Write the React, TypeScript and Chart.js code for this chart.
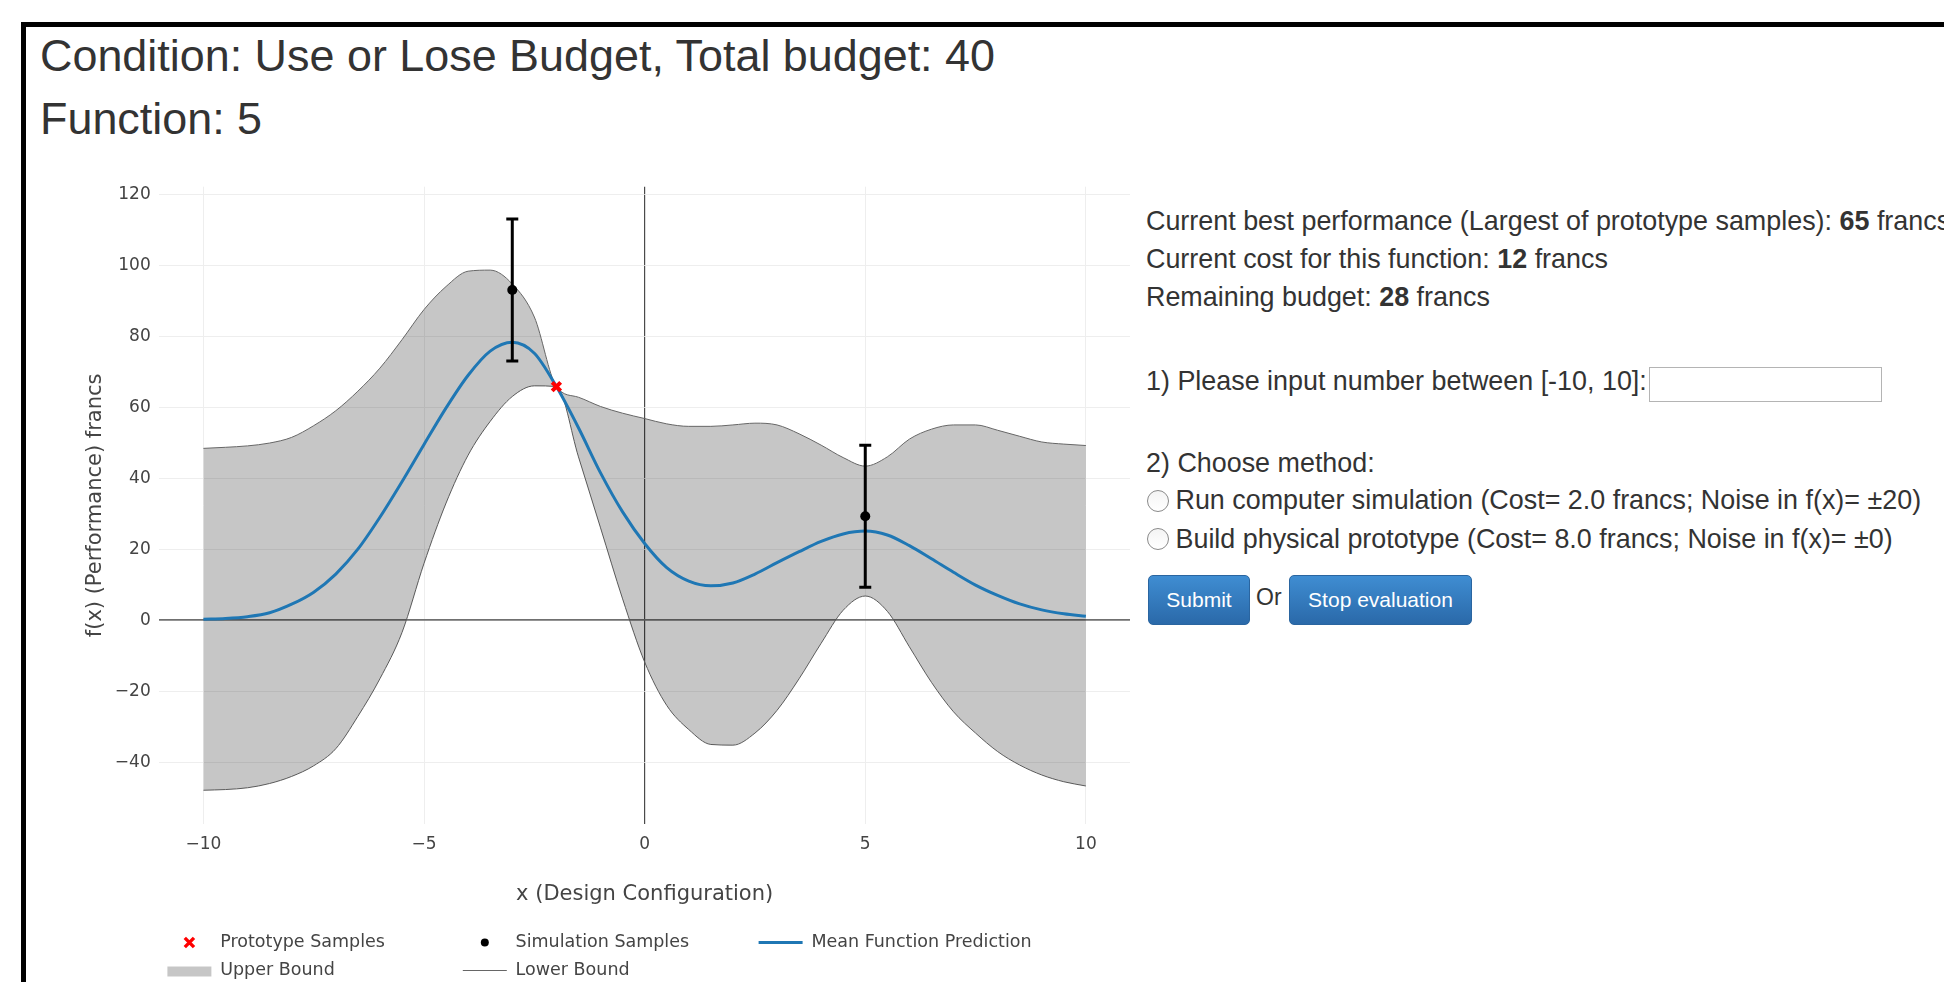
import React, { useEffect, useRef } from "react";
import { Chart, registerables } from "chart.js";

Chart.register(...registerables);

// ---------- data ----------
const designX = [
  -10, -9.5, -9, -8.5, -8, -7.5, -7, -6.5, -6, -5.5, -5, -4.5, -4, -3.5, -3, -2.5, -2, -1.5, -1, -0.5,
  0, 0.5, 1, 1.5, 2, 2.5, 3, 3.5, 4, 4.5, 5, 5.5, 6, 6.5, 7, 7.5, 8, 8.5, 9, 9.5, 10,
];
const meanPrediction = [
  0.3, 0.5, 1.0, 2.1, 4.5, 7.9, 13.0, 20.0, 29.0, 39.0, 49.5, 59.8, 69.0, 75.8, 78.3, 75.2, 65.8, 54.2, 41.5, 30.5,
  21.6, 14.8, 11.0, 9.7, 10.5, 13.0, 16.2, 19.3, 22.2, 24.3, 25.1, 24.0, 21.0, 17.3, 13.5, 9.9, 7.0, 4.6, 2.9, 1.8, 1.1,
];
const upperBound = [
  48.4, 48.7, 49.1, 49.9, 51.5, 54.8, 59.0, 64.5, 71.0, 79.0, 87.5, 94.0, 98.3, 98.6, 94.7, 85.4, 65.8, 62.8, 60.2, 58.3,
  56.8, 55.3, 54.6, 54.6, 55.0, 55.5, 55.0, 52.5, 49.3, 45.8, 43.4, 46.0, 51.0, 53.8, 55.0, 55.0, 53.5, 51.8, 50.2, 49.6, 49.2,
];
const lowerBound = [
  -47.9, -47.7, -47.2, -46.0, -44.0, -41.0, -36.2, -27.1, -16.5, -3.5, 16.0, 33.0, 46.5, 56.0, 63.0, 66.0, 65.8, 46.0, 26.0, 6.0,
  -11.8, -24.0, -30.8, -35.0, -35.2, -31.8, -25.4, -16.5, -6.5, 2.8, 6.8, 2.5, -7.5, -17.5, -25.8, -31.8, -37.0, -40.8, -43.6, -45.5, -46.7,
];
const prototypeX = [-2];
const prototypeY = [65.8];
const simulationX = [-3, 5];
const simulationY = [93, 29.3];
const simulationNoise = [20, 20];
const xTickValues = [-10, -5, 0, 5, 10];
const yTickValues = [-40, -20, 0, 20, 40, 60, 80, 100, 120];
const xLimits = [-11, 11];
const yLimits = [-57.4, 122.1];
const seriesNames = [
  "Prototype Samples",
  "Simulation Samples",
  "Mean Function Prediction",
  "Upper Bound",
  "Lower Bound",
];

// ---------- styles ----------
const CHART_FONT = '"DejaVu Sans", Verdana, sans-serif';
const PAGE_FONT = '"Liberation Sans", Arial, Helvetica, sans-serif';
const BAND_FILL = "rgba(0,0,0,0.225)";
const BAND_LINE = "#666666";
const MEAN_COLOR = "#1f77b4";

const fmtTick = (v: number) => (v < 0 ? "\u2212" + Math.abs(v) : String(v));

const toPoints = (xs: number[], ys: number[]) => xs.map((x, i) => ({ x, y: ys[i] }));

const errorBarPlugin = {
  id: "errorBars",
  beforeDatasetDraw(chart: any, args: any, opts: any) {
    if (args.index !== opts.datasetIndex) return;
    const { ctx, scales } = chart;
    const xs = scales.x;
    const ys = scales.y;
    ctx.save();
    ctx.strokeStyle = opts.color;
    ctx.lineWidth = opts.lineWidth;
    simulationX.forEach((sx: number, i: number) => {
      const px = xs.getPixelForValue(sx);
      const top = ys.getPixelForValue(simulationY[i] + simulationNoise[i]);
      const bot = ys.getPixelForValue(simulationY[i] - simulationNoise[i]);
      ctx.beginPath();
      ctx.moveTo(px, top);
      ctx.lineTo(px, bot);
      ctx.moveTo(px - opts.capHalf, top);
      ctx.lineTo(px + opts.capHalf, top);
      ctx.moveTo(px - opts.capHalf, bot);
      ctx.lineTo(px + opts.capHalf, bot);
      ctx.stroke();
    });
    ctx.restore();
  },
};

const legendPlugin = {
  id: "plotlyLegend",
  afterDraw(chart: any, _args: any, opts: any) {
    const { ctx } = chart;
    ctx.save();
    ctx.font = `${opts.fontSize}px ${CHART_FONT}`;
    ctx.textBaseline = "middle";
    ctx.textAlign = "left";
    opts.slots.forEach((slot: any) => {
      const ds = chart.data.datasets[slot.dataset];
      const cx = opts.columns[slot.col];
      const cy = opts.rows[slot.row];
      if (slot.symbol === "cross") {
        ctx.strokeStyle = ds.borderColor;
        ctx.lineWidth = 3.4;
        const h = 4.6;
        ctx.beginPath();
        ctx.moveTo(cx - h, cy - h);
        ctx.lineTo(cx + h, cy + h);
        ctx.moveTo(cx + h, cy - h);
        ctx.lineTo(cx - h, cy + h);
        ctx.stroke();
      } else if (slot.symbol === "dot") {
        ctx.fillStyle = ds.backgroundColor;
        ctx.beginPath();
        ctx.arc(cx, cy, 4, 0, Math.PI * 2);
        ctx.fill();
      } else if (slot.symbol === "line") {
        ctx.strokeStyle = ds.borderColor;
        ctx.lineWidth = slot.width;
        ctx.beginPath();
        ctx.moveTo(cx - 22, cy);
        ctx.lineTo(cx + 22, cy);
        ctx.stroke();
      } else if (slot.symbol === "band") {
        ctx.fillStyle = ds.backgroundColor;
        ctx.fillRect(cx - 22, cy - 4, 44, 10);
      }
      ctx.fillStyle = opts.color;
      ctx.fillText(ds.label, cx + opts.textOffset, cy);
    });
    ctx.restore();
  },
};

const axisFont = { family: CHART_FONT, size: 17 };
const titleFont = { family: CHART_FONT, size: 21, lineHeight: 1.2 };

function buildConfig(): any {
  return {
    type: "line",
    data: {
      datasets: [
        {
          label: seriesNames[0],
          data: toPoints(prototypeX, prototypeY),
          showLine: false,
          pointStyle: "crossRot",
          pointRadius: 6,
          pointBorderWidth: 4,
          borderColor: "#ff0000",
          backgroundColor: "#ff0000",
        },
        {
          label: seriesNames[1],
          data: toPoints(simulationX, simulationY),
          showLine: false,
          pointStyle: "circle",
          pointRadius: 5,
          pointBorderWidth: 0,
          borderColor: "#000000",
          backgroundColor: "#000000",
        },
        {
          label: seriesNames[2],
          data: toPoints(designX, meanPrediction),
          borderColor: MEAN_COLOR,
          backgroundColor: MEAN_COLOR,
          borderWidth: 3,
          pointRadius: 0,
          cubicInterpolationMode: "monotone",
          fill: false,
        },
        {
          label: seriesNames[3],
          data: toPoints(designX, upperBound),
          borderColor: BAND_LINE,
          backgroundColor: BAND_FILL,
          borderWidth: 1,
          pointRadius: 0,
          cubicInterpolationMode: "monotone",
          fill: "+1",
        },
        {
          label: seriesNames[4],
          data: toPoints(designX, lowerBound),
          borderColor: BAND_LINE,
          backgroundColor: BAND_FILL,
          borderWidth: 1,
          pointRadius: 0,
          cubicInterpolationMode: "monotone",
          fill: false,
        },
      ],
    },
    options: {
      responsive: false,
      animation: false,
      events: [],
      layout: { padding: { left: 0, top: 36.7, right: 9, bottom: 0 } },
      plugins: {
        legend: { display: false },
        tooltip: { enabled: false },
        errorBars: { datasetIndex: 1, color: "#000000", lineWidth: 3, capHalf: 6 },
        plotlyLegend: {
          fontSize: 17.5,
          color: "#444444",
          textOffset: 30.8,
          columns: [189.4, 484.8, 780.6],
          rows: [792.5, 820.5],
          slots: [
            { dataset: 0, col: 0, row: 0, symbol: "cross" },
            { dataset: 1, col: 1, row: 0, symbol: "dot" },
            { dataset: 2, col: 2, row: 0, symbol: "line", width: 3 },
            { dataset: 3, col: 0, row: 1, symbol: "band" },
            { dataset: 4, col: 1, row: 1, symbol: "line", width: 1 },
          ],
        },
      },
      scales: {
        x: {
          type: "linear",
          min: xLimits[0],
          max: xLimits[1],
          afterBuildTicks: (s: any) => {
            s.ticks = xTickValues.map((v) => ({ value: v }));
          },
          afterFit: (s: any) => {
            s.height = 158;
          },
          grid: {
            color: (c: any) => (c.tick && c.tick.value === 0 ? "#4a4a4a" : "#eeeeee"),
            lineWidth: (c: any) => (c.tick && c.tick.value === 0 ? 1.2 : 1),
            drawTicks: false,
          },
          border: { display: false },
          ticks: {
            padding: 10.8,
            color: "#444444",
            font: axisFont,
            autoSkip: false,
            maxRotation: 0,
            callback: (v: any) => fmtTick(Number(v)),
          },
          title: {
            display: true,
            text: "x (Design Configuration)",
            color: "#444444",
            font: titleFont,
            padding: { top: 0, bottom: 74.9 },
          },
        },
        y: {
          type: "linear",
          min: yLimits[0],
          max: yLimits[1],
          afterBuildTicks: (s: any) => {
            s.ticks = yTickValues.map((v) => ({ value: v }));
          },
          afterFit: (s: any) => {
            s.width = 159.3;
          },
          grid: {
            color: (c: any) => (c.tick && c.tick.value === 0 ? "#707070" : "#eeeeee"),
            lineWidth: (c: any) => (c.tick && c.tick.value === 0 ? 1.8 : 1),
            drawTicks: false,
          },
          border: { display: false },
          ticks: {
            padding: 8.6,
            color: "#444444",
            font: axisFont,
            autoSkip: false,
            callback: (v: any) => fmtTick(Number(v)),
          },
          title: {
            display: true,
            text: "f(x) (Performance) francs",
            color: "#444444",
            font: titleFont,
            padding: { top: 82.9, bottom: 0 },
          },
        },
      },
    },
    plugins: [errorBarPlugin, legendPlugin],
  };
}

// ---------- page helpers ----------
function Txt(props: { left: number; baseline: number; size: number; children: any; color?: string }) {
  const { left, baseline, size, children, color } = props;
  return (
    <div
      style={{
        position: "absolute",
        left,
        top: baseline - 0.8465 * size,
        fontFamily: PAGE_FONT,
        fontSize: size,
        lineHeight: `${size}px`,
        color: color || "#333333",
        whiteSpace: "nowrap",
      }}
    >
      {children}
    </div>
  );
}

function Radio(props: { left: number; top: number }) {
  return (
    <div
      style={{
        position: "absolute",
        left: props.left,
        top: props.top,
        width: 22,
        height: 22,
        boxSizing: "border-box",
        borderRadius: "50%",
        border: "1.5px solid #8a8a8a",
        background: "linear-gradient(#f4f4f4, #ffffff)",
      }}
    />
  );
}

function Button(props: { left: number; width: number; label: string }) {
  return (
    <div
      style={{
        position: "absolute",
        left: props.left,
        top: 575,
        width: props.width,
        height: 50,
        boxSizing: "border-box",
        borderRadius: 5,
        border: "1px solid #2a65a0",
        background: "linear-gradient(#3f8dd2, #2a69a9)",
        color: "#ffffff",
        fontFamily: PAGE_FONT,
        fontSize: 21,
        display: "flex",
        alignItems: "center",
        justifyContent: "center",
        whiteSpace: "nowrap",
      }}
    >
      {props.label}
    </div>
  );
}

export default function App() {
  const canvasRef = useRef<HTMLCanvasElement | null>(null);

  useEffect(() => {
    if (!canvasRef.current) return;
    const chart = new Chart(canvasRef.current, buildConfig());
    return () => chart.destroy();
  }, []);

  const body = 26.9;
  return (
    <div
      style={{
        position: "absolute",
        left: 0,
        top: 0,
        width: 1944,
        height: 982,
        overflow: "hidden",
        background: "#ffffff",
      }}
    >
      <div
        style={{
          position: "absolute",
          left: 21,
          top: 22,
          width: 3000,
          height: 3000,
          borderLeft: "5px solid #000000",
          borderTop: "5px solid #000000",
        }}
      />
      <Txt left={40} baseline={71.7} size={44.9}>
        Condition: Use or Lose Budget, Total budget: 40
      </Txt>
      <Txt left={40} baseline={135} size={44.9}>
        Function: 5
      </Txt>

      <canvas
        ref={canvasRef}
        width={1140}
        height={832}
        style={{ position: "absolute", left: 0, top: 150, width: 1140, height: 832 }}
      />

      <Txt left={1146} baseline={231} size={body}>
        Current best performance (Largest of prototype samples): <b>65</b> francs
      </Txt>
      <Txt left={1146} baseline={268.5} size={body}>
        Current cost for this function: <b>12</b> francs
      </Txt>
      <Txt left={1146} baseline={306.5} size={body}>
        Remaining budget: <b>28</b> francs
      </Txt>
      <Txt left={1146} baseline={391} size={body}>
        1) Please input number between [-10, 10]:
      </Txt>
      <div
        style={{
          position: "absolute",
          left: 1649,
          top: 367,
          width: 233,
          height: 35,
          boxSizing: "border-box",
          border: "1.5px solid #b4b4b4",
          background: "#ffffff",
        }}
      />
      <Txt left={1146} baseline={472.5} size={body}>
        2) Choose method:
      </Txt>
      <Radio left={1147} top={490} />
      <Txt left={1175.5} baseline={510} size={body}>
        Run computer simulation (Cost= 2.0 francs; Noise in f(x)= ±20)
      </Txt>
      <Radio left={1147} top={528} />
      <Txt left={1175.5} baseline={548.3} size={body}>
        Build physical prototype (Cost= 8.0 francs; Noise in f(x)= ±0)
      </Txt>
      <Button left={1148} width={102} label="Submit" />
      <Txt left={1256} baseline={605.7} size={23}>
        Or
      </Txt>
      <Button left={1289} width={183} label="Stop evaluation" />
    </div>
  );
}
